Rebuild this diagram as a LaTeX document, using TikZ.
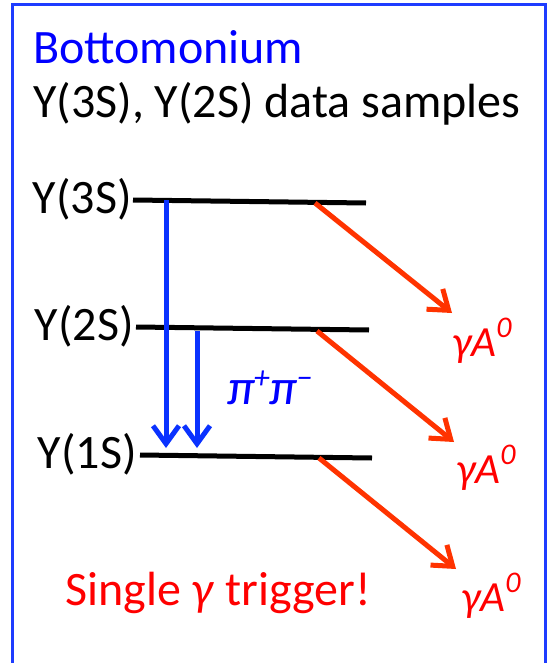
\documentclass[tikz,border=0pt]{standalone}
\usepackage{fontspec}
\setmainfont{Carlito}
\usetikzlibrary{arrows.meta}
\definecolor{frameblue}{RGB}{30,60,255}
\definecolor{arrblue}{RGB}{10,50,255}
\definecolor{arrred}{RGB}{255,51,0}
\definecolor{txtred}{RGB}{255,0,0}
\definecolor{txtblue}{RGB}{0,0,255}
\newcommand{\supr}[1]{\raisebox{0.42em}{\fontsize{30}{30}\selectfont #1}}
\newcommand{\supp}[1]{\raisebox{0.32em}{\fontsize{32}{32}\selectfont #1}}
\begin{document}
\begin{tikzpicture}[x=1pt,y=-1pt,
  bigtext/.style={font=\fontsize{48}{56}\selectfont, inner sep=0pt, anchor=base west},
  lvltext/.style={font=\fontsize{48}{56}\selectfont, inner sep=0pt, anchor=base east},
  smalltext/.style={font=\fontsize{43}{50}\selectfont\itshape, inner sep=0pt, anchor=base west},
  pitext/.style={font=\fontsize{50}{56}\selectfont\itshape, inner sep=0pt, anchor=base west},
  levelline/.style={line width=5pt},
  bluearrow/.style={arrblue, line width=5pt, -{Straight Barb[length=18pt,width=26pt,line width=5pt]}},
  redarrow/.style={arrred, line width=5pt, -{Straight Barb[length=18pt,width=26pt,line width=5pt]}}
]
\useasboundingbox (0,0) rectangle (548,663);
\fill[white] (0,0) rectangle (548,663);
\draw[frameblue, line width=3pt] (12,663) -- (12,5) -- (545,5) -- (545,663);

\node[bigtext, txtblue] (title) at (33,64) {Bottomonium};
\node[bigtext] (samples) at (33,118) {Y(3S), Y(2S) data samples};

% levels
\coordinate (l3a) at (133,200); \coordinate (l3b) at (366,203);
\coordinate (l2a) at (136,327); \coordinate (l2b) at (369,330);
\coordinate (l1a) at (140,455); \coordinate (l1b) at (372,458);
\draw[levelline] (l3a) -- (l3b);
\draw[levelline] (l2a) -- (l2b);
\draw[levelline] (l1a) -- (l1b);

\node[lvltext] (lab3) at (132,213) {Y(3S)};
\node[lvltext] (lab2) at (134,340) {Y(2S)};
\node[lvltext] (lab1) at (137,468) {Y(1S)};

% blue transitions
\coordinate (b1s) at (166,200); \coordinate (b1e) at (166,448);
\coordinate (b2s) at (197,331); \coordinate (b2e) at (197,448);
\draw[bluearrow] (b1s) -- (b1e);
\draw[bluearrow] (b2s) -- (b2e);
\node[pitext, txtblue] (pipi) at (227,404) {π\kern-1pt\supp{+}π\kern-1pt\supp{−}};

% red transitions
\coordinate (r3s) at (315,203); \coordinate (r3e) at (452,313);
\coordinate (r2s) at (317,331); \coordinate (r2e) at (454,442);
\coordinate (r1s) at (319,458); \coordinate (r1e) at (456,569);
\draw[redarrow] (r3s) -- (r3e);
\draw[redarrow] (r2s) -- (r2e);
\draw[redarrow] (r1s) -- (r1e);

\node[smalltext, txtred] (ga3) at (452,356) {γA\supr{0}};
\node[smalltext, txtred] (ga2) at (456,483) {γA\supr{0}};
\node[smalltext, txtred] (ga1) at (461,611) {γA\supr{0}};

\node[bigtext, txtred] (single) at (65,605) {Single \textit{γ} trigger!};
\end{tikzpicture}
\end{document}
